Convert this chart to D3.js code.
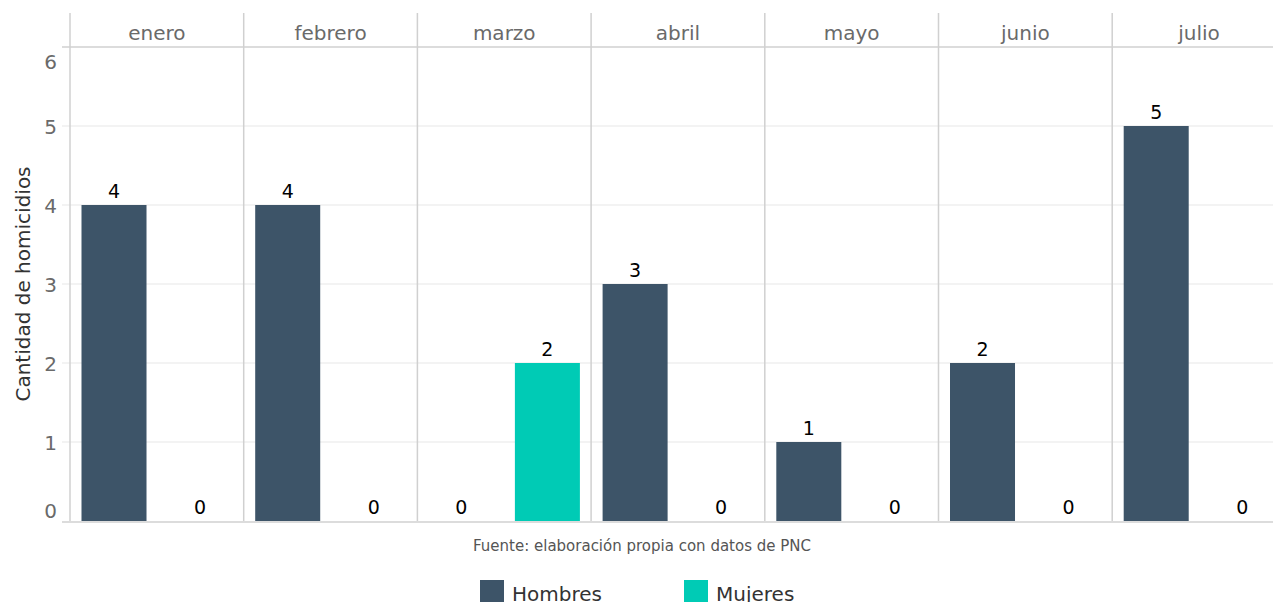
<!DOCTYPE html>
<html>
<head>
<meta charset="utf-8">
<script src="https://cdn.jsdelivr.net/npm/d3@7"></script>
<style>
  body { margin: 0; background: #fff; overflow: hidden; }
  text { font-family: "DejaVu Sans", sans-serif; }
</style>
</head>
<body>
<div id="chart"></div>
<script>
const months = ["enero", "febrero", "marzo", "abril", "mayo", "junio", "julio"];
const groups = ["Hombres", "Mujeres"];
const hombres = [4, 4, 0, 3, 1, 2, 5];
const mujeres = [0, 0, 2, 0, 0, 0, 0];
const yTicks = [0, 1, 2, 3, 4, 5, 6];
const caption = "Fuente: elaboración propia con datos de PNC";
const yTitle = "Cantidad de homicidios";

const colors = { Hombres: "#3d5468", Mujeres: "#00cbb5" };

const width = 1273, height = 602;
const margin = { top: 47, left: 70, bottom: 81 };
const panelW = 173.7;

const svg = d3.select("#chart").append("svg")
    .attr("width", width)
    .attr("height", height);

const y = d3.scaleLinear()
    .domain([0, 6])
    .range([height - margin.bottom, margin.top]);

const xPanel = d3.scaleBand()
    .domain(months)
    .range([margin.left, margin.left + panelW * months.length])
    .padding(0);

const xInner = d3.scaleBand()
    .domain(groups)
    .range([11.5, 162.5])
    .paddingInner(0.244)
    .paddingOuter(0);

// horizontal gridlines
svg.append("g")
  .selectAll("line")
  .data(yTicks.filter(d => d > 0 && d < 6))
  .enter()
  .append("line")
    .attr("x1", margin.left - 8)
    .attr("x2", width)
    .attr("y1", d => y(d))
    .attr("y2", d => y(d))
    .attr("stroke", "#efefef")
    .attr("stroke-width", 1.5);

// panel separators
svg.append("g")
  .selectAll("line")
  .data(months)
  .enter()
  .append("line")
    .attr("x1", d => xPanel(d))
    .attr("x2", d => xPanel(d))
    .attr("y1", 13)
    .attr("y2", y(0))
    .attr("stroke", "#d0d0d0")
    .attr("stroke-width", 1.5);

// strip line and bottom line
svg.append("line")
    .attr("x1", margin.left - 8).attr("x2", width)
    .attr("y1", y(6)).attr("y2", y(6))
    .attr("stroke", "#d0d0d0").attr("stroke-width", 1.5);

svg.append("line")
    .attr("x1", margin.left - 8).attr("x2", width)
    .attr("y1", y(0) + 1).attr("y2", y(0) + 1)
    .attr("stroke", "#d0d0d0").attr("stroke-width", 1.5);

// strip labels
svg.append("g")
  .selectAll("text")
  .data(months)
  .enter()
  .append("text")
    .attr("x", d => xPanel(d) + panelW / 2)
    .attr("y", 40)
    .attr("text-anchor", "middle")
    .style("font-size", "20px")
    .style("fill", "#6a6a6a")
    .text(d => d);

// y tick labels
svg.append("g")
  .selectAll("text")
  .data(yTicks)
  .enter()
  .append("text")
    .attr("x", 57)
    .attr("y", d => y(d) + (d === 6 ? 22 : d === 0 ? -3 : 8))
    .attr("text-anchor", "end")
    .style("font-size", "20px")
    .style("fill", "#6a6a6a")
    .text(d => d);

// y axis title
svg.append("text")
    .attr("transform", `translate(30, ${(y(0) + y(6)) / 2}) rotate(-90)`)
    .attr("text-anchor", "middle")
    .style("font-size", "20px")
    .style("fill", "#333")
    .text(yTitle);

const rows = [];
months.forEach((m, i) => {
  rows.push({ month: m, group: "Hombres", value: hombres[i] });
  rows.push({ month: m, group: "Mujeres", value: mujeres[i] });
});

svg.append("g")
  .selectAll("rect")
  .data(rows)
  .enter()
  .append("rect")
    .attr("x", d => xPanel(d.month) + xInner(d.group))
    .attr("y", d => y(d.value))
    .attr("width", xInner.bandwidth())
    .attr("height", d => y(0) - y(d.value))
    .attr("fill", d => colors[d.group]);

svg.append("g")
  .selectAll("text")
  .data(rows)
  .enter()
  .append("text")
    .attr("x", d => xPanel(d.month) + xInner(d.group) + xInner.bandwidth() / 2)
    .attr("y", d => y(d.value) - 7)
    .attr("text-anchor", "middle")
    .style("font-size", "19px")
    .style("fill", "#000")
    .text(d => d.value);

// caption
svg.append("text")
    .attr("x", 642)
    .attr("y", 551)
    .attr("text-anchor", "middle")
    .style("font-size", "15px")
    .style("fill", "#555")
    .text(caption);

// legend
const legend = svg.append("g")
  .selectAll("g")
  .data(groups)
  .enter()
  .append("g")
    .attr("transform", (d, i) => `translate(${480 + i * 204}, 580)`);

legend.append("rect")
    .attr("width", 24)
    .attr("height", 24)
    .attr("fill", d => colors[d]);

legend.append("text")
    .attr("x", 32)
    .attr("y", 21)
    .style("font-size", "20px")
    .style("fill", "#333")
    .text(d => d);
</script>
</body>
</html>
